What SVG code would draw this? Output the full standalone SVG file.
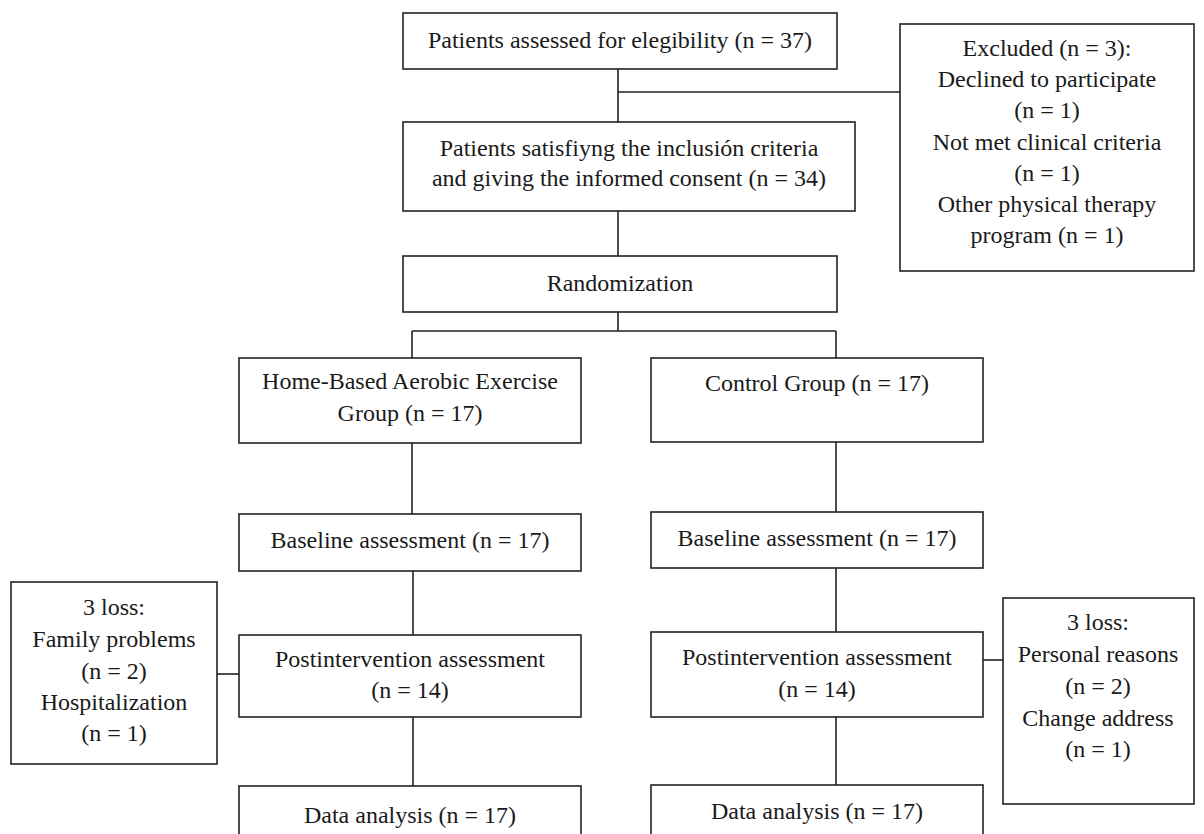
<svg xmlns="http://www.w3.org/2000/svg" width="1204" height="834" viewBox="0 0 1204 834">
<style>
rect.box{fill:#fff;stroke:#222;stroke-width:1.6}
.conn line{stroke:#222;stroke-width:1.6}
text{font-family:"Liberation Serif","Times New Roman",serif;font-size:24px;fill:#1a1a1a;text-anchor:middle}
</style>
<rect width="1204" height="834" fill="#fff"/>
<g class="conn" id="connectors">
<line x1="618" y1="69" x2="618" y2="122"/>
<line x1="618" y1="92" x2="900" y2="92"/>
<line x1="618" y1="211" x2="618" y2="256"/>
<line x1="618" y1="312" x2="618" y2="331"/>
<line x1="412" y1="331" x2="836" y2="331"/>
<line x1="412" y1="331" x2="412" y2="358"/>
<line x1="836" y1="331" x2="836" y2="358"/>
<line x1="412" y1="443" x2="412" y2="514"/>
<line x1="836" y1="442" x2="836" y2="512"/>
<line x1="413" y1="571" x2="413" y2="635"/>
<line x1="836" y1="568" x2="836" y2="632"/>
<line x1="217" y1="674" x2="239" y2="674"/>
<line x1="983" y1="660" x2="1003" y2="660"/>
<line x1="413" y1="717" x2="413" y2="786"/>
<line x1="836" y1="717" x2="836" y2="785"/>
</g>
<g id="assessed">
<rect class="box" x="403" y="13" width="434" height="56"/>
<text x="620" y="48">Patients assessed for elegibility (n = 37)</text>
</g>
<g id="excluded">
<rect class="box" x="900" y="24" width="294" height="247"/>
<text x="1047" y="56">Excluded (n = 3):</text>
<text x="1047" y="87">Declined to participate</text>
<text x="1047" y="118">(n = 1)</text>
<text x="1047" y="150">Not met clinical criteria</text>
<text x="1047" y="181">(n = 1)</text>
<text x="1047" y="212">Other physical therapy</text>
<text x="1047" y="243">program (n = 1)</text>
</g>
<g id="inclusion">
<rect class="box" x="403" y="122" width="452" height="89"/>
<text x="629" y="156">Patients satisfiyng the inclusión criteria</text>
<text x="629" y="186">and giving the informed consent (n = 34)</text>
</g>
<g id="randomization">
<rect class="box" x="403" y="256" width="434" height="56"/>
<text x="620" y="291">Randomization</text>
</g>
<g id="exercise-group">
<rect class="box" x="239" y="358" width="342" height="85"/>
<text x="410" y="389">Home-Based Aerobic Exercise</text>
<text x="410" y="421">Group (n = 17)</text>
</g>
<g id="control-group">
<rect class="box" x="651" y="358" width="332" height="84"/>
<text x="817" y="391">Control Group (n = 17)</text>
</g>
<g id="baseline-left">
<rect class="box" x="239" y="514" width="342" height="57"/>
<text x="410" y="548">Baseline assessment (n = 17)</text>
</g>
<g id="baseline-right">
<rect class="box" x="651" y="512" width="332" height="56"/>
<text x="817" y="546">Baseline assessment (n = 17)</text>
</g>
<g id="loss-left">
<rect class="box" x="11" y="582" width="206" height="182"/>
<text x="114" y="615">3 loss:</text>
<text x="114" y="647">Family problems</text>
<text x="114" y="679">(n = 2)</text>
<text x="114" y="710">Hospitalization</text>
<text x="114" y="741">(n = 1)</text>
</g>
<g id="post-left">
<rect class="box" x="239" y="635" width="342" height="82"/>
<text x="410" y="667">Postintervention assessment</text>
<text x="410" y="698">(n = 14)</text>
</g>
<g id="post-right">
<rect class="box" x="651" y="632" width="332" height="85"/>
<text x="817" y="665">Postintervention assessment</text>
<text x="817" y="697">(n = 14)</text>
</g>
<g id="loss-right">
<rect class="box" x="1003" y="598" width="191" height="206"/>
<text x="1098" y="630">3 loss:</text>
<text x="1098" y="662">Personal reasons</text>
<text x="1098" y="694">(n = 2)</text>
<text x="1098" y="726">Change address</text>
<text x="1098" y="757">(n = 1)</text>
</g>
<g id="data-left">
<rect class="box" x="239" y="786" width="342" height="60"/>
<text x="410" y="823">Data analysis (n = 17)</text>
</g>
<g id="data-right">
<rect class="box" x="651" y="785" width="332" height="60"/>
<text x="817" y="819">Data analysis (n = 17)</text>
</g>
</svg>
